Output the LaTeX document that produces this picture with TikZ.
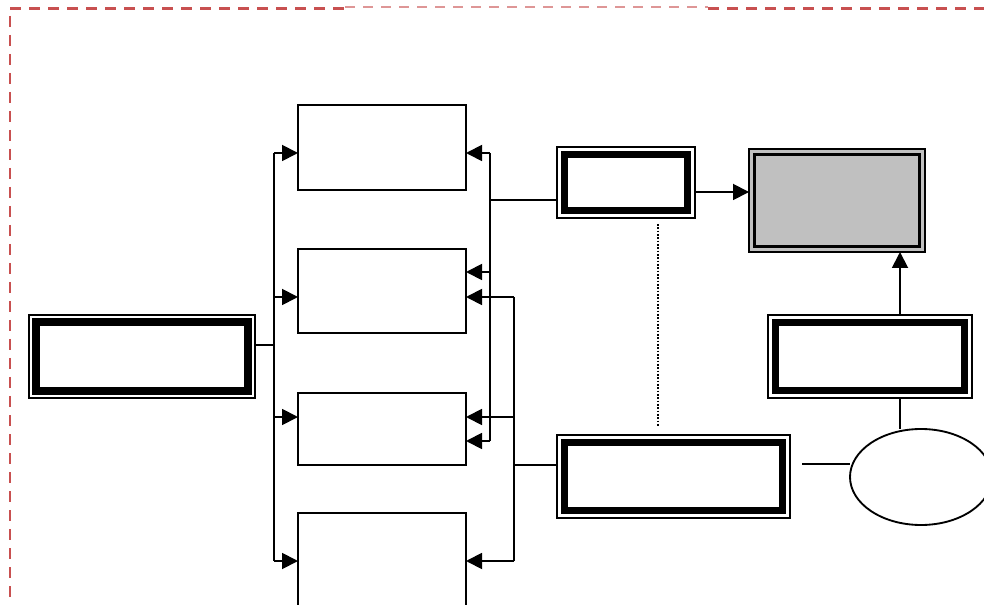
\documentclass[tikz,border=0pt]{standalone}
\usetikzlibrary{arrows.meta,shapes.geometric}
\definecolor{framered}{RGB}{200,80,80}
\definecolor{boxgrey}{RGB}{192,192,192}
\begin{document}
\begin{tikzpicture}[x=0.75pt,y=-0.75pt,
  line/.style={line width=1.4pt},
  arr/.style={line width=1.4pt, -{Triangle[length=12pt,width=12pt]}},
  plainbox/.style={draw, line width=1.4pt, inner sep=0pt, outer sep=0pt, fill=white},
  dblbox/.style={draw, line width=1.2pt, inner sep=0pt, outer sep=0pt, fill=white},
  greybox/.style={draw, line width=1.4pt, inner sep=0pt, outer sep=0pt, fill=boxgrey},
  band/.style={line width=5.8pt},
  frameline/.style={framered, line width=2pt, dash pattern=on 8.5pt off 5.75pt},
  dots/.style={line width=1.4pt, dash pattern=on 1.2pt off 1.3pt}
]
\clip (0,0) rectangle (984,605);
\fill[white] (0,0) rectangle (984,605);

% frame
\draw[frameline] (10,8.3) -- (345,8.3);
\draw[framered, line width=1pt, dash pattern=on 7.5pt off 6pt, opacity=0.6] (345,7) -- (708,7);
\draw[frameline] (708,8.3) -- (984,8.3);
\draw[frameline] (10,16) -- (10,605);

% boxes
\node[dblbox, minimum width=169.5pt, minimum height=62.25pt] (A) at (142,356.5) {};
\draw[band] ([shift={(7,7)}]A.north west) rectangle ([shift={(-7,-7)}]A.south east);

\node[plainbox, minimum width=126pt, minimum height=63.75pt] (B1) at (382,147.5) {};
\node[plainbox, minimum width=126pt, minimum height=63pt] (B2) at (382,291) {};
\node[plainbox, minimum width=126pt, minimum height=54pt] (B3) at (382,429) {};
\node[plainbox, minimum width=126pt, minimum height=102.75pt] (B4) at (382,581.5) {};

\node[dblbox, minimum width=103.5pt, minimum height=53.25pt] (C) at (626,182.5) {};
\draw[band] ([shift={(7.5,7.5)}]C.north west) rectangle ([shift={(-7.5,-7.5)}]C.south east);

\node[greybox, minimum width=132pt, minimum height=77.25pt] (D) at (837,200.5) {};
\draw[line width=1.6pt] ([shift={(5.5,5.5)}]D.north west) rectangle ([shift={(-5.5,-5.5)}]D.south east);

\node[dblbox, minimum width=174.75pt, minimum height=62.25pt] (E) at (673.5,476.5) {};
\draw[band] ([shift={(7.5,7.5)}]E.north west) rectangle ([shift={(-7.5,-7.5)}]E.south east);

\node[dblbox, minimum width=153pt, minimum height=62.25pt] (F) at (870,356.5) {};
\draw[band] ([shift={(7.5,7.5)}]F.north west) rectangle ([shift={(-7.5,-7.5)}]F.south east);

\node[draw, ellipse, line width=1.4pt, inner sep=0pt, outer sep=0pt, minimum width=106.5pt, minimum height=72pt] (G) at (921,477) {};

% left bus
\coordinate (la) at (274,345);
\coordinate (lt) at (274,153);
\coordinate (l2) at (274,297);
\coordinate (l3) at (274,417);
\coordinate (lb) at (274,561);
\draw[line] (la -| A.east) -- (la);
\draw[line] (lt) -- (lb);
\draw[arr] (lt) -- (lt -| B1.west);
\draw[arr] (l2) -- (l2 -| B2.west);
\draw[arr] (l3) -- (l3 -| B3.west);
\draw[arr] (lb) -- (lb -| B4.west);

% right bus 1
\coordinate (ra) at (490,153);
\coordinate (rb) at (490,272);
\coordinate (rc) at (490,441);
\coordinate (rm) at (490,200);
\draw[line] (ra) -- (rc);
\draw[arr] (ra) -- (ra -| B1.east);
\draw[arr] (rb) -- (rb -| B2.east);
\draw[arr] (rc) -- (rc -| B3.east);
\draw[line] (rm) -- (rm -| C.west);

% right bus 2
\coordinate (sa) at (514,297);
\coordinate (sb) at (514,417);
\coordinate (sc) at (514,561);
\coordinate (sm) at (514,465);
\draw[line] (sa) -- (sc);
\draw[arr] (sa) -- (sa -| B2.east);
\draw[arr] (sb) -- (sb -| B3.east);
\draw[arr] (sc) -- (sc -| B4.east);
\draw[line] (sm) -- (sm -| E.west);

% right side
\coordinate (cd) at (0,192);
\draw[arr] (cd -| C.east) -- (cd -| D.west);
\coordinate (fx) at (900,0);
\draw[arr] (fx |- F.north) -- (fx |- D.south);
\draw[line] (fx |- F.south) -- (fx |- G.north);
\coordinate (eg) at (802,464);
\draw[line] (eg) -- (eg -| G.west);

% dotted link
\coordinate (dt) at (658,224);
\coordinate (db) at (658,426);
\draw[dots] (dt) -- (db);
\end{tikzpicture}
\end{document}
